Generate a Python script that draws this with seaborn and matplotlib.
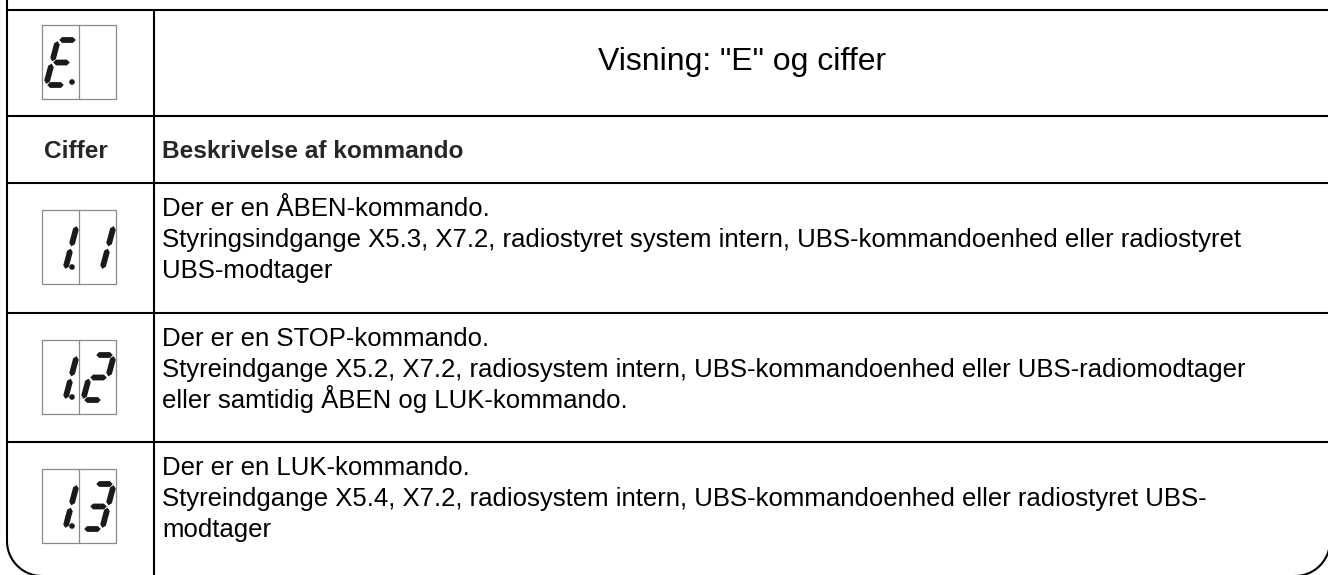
import matplotlib
matplotlib.use("Agg")
import matplotlib.pyplot as plt
from matplotlib.patches import Polygon, Rectangle, Circle
import numpy as np
import seaborn as sns

# table content
title = 'Visning: "E" og ciffer'
col_headers = ["Ciffer", "Beskrivelse af kommando"]
header_code = "E"
codes = ["11", "12", "13"]
descriptions = [
    ["Der er en ÅBEN-kommando.",
     "Styringsindgange X5.3, X7.2, radiostyret system intern, UBS-kommandoenhed eller radiostyret",
     "UBS-modtager"],
    ["Der er en STOP-kommando.",
     "Styreindgange X5.2, X7.2, radiosystem intern, UBS-kommandoenhed eller UBS-radiomodtager",
     "eller samtidig ÅBEN og LUK-kommando."],
    ["Der er en LUK-kommando.",
     "Styreindgange X5.4, X7.2, radiosystem intern, UBS-kommandoenhed eller radiostyret UBS-",
     "modtager"],
]

sns.set_theme(style="white")
plt.rcParams['font.family'] = ['Liberation Sans', 'DejaVu Sans']

W, H = 1328, 575
fig = plt.figure(figsize=(W / 100, H / 100), dpi=100)
ax = fig.add_axes([0, 0, 1, 1])
ax.set_xlim(0, W)
ax.set_ylim(H, 0)
ax.axis("off")

LW = 1.5
INK = "#1a1a1a"
BODY = 18.5

# seven segment helper
SEGS = {"E": "adefg", "1": "bc", "2": "abdeg", "3": "abcdg"}
SEG_PTS = {
    "a": ((0, 0), (1, 0)), "b": ((1, 0), (1, 0.5)), "c": ((1, 0.5), (1, 1)),
    "d": ((0, 1), (1, 1)), "e": ((0, 0.5), (0, 1)), "f": ((0, 0), (0, 0.5)),
    "g": ((0, 0.5), (1, 0.5)),
}


def to_px(cx, cy, u, v):
    return np.array([cx + 4 + u * 19 + 12 * (1 - v), cy + 15 + v * 45])


def draw_digit(cx, cy, ch, dot):
    for s in SEGS.get(ch, ""):
        p, q = SEG_PTS[s]
        P = to_px(cx, cy, *p)
        Q = to_px(cx, cy, *q)
        d = (Q - P) / np.linalg.norm(Q - P)
        n = np.array([-d[1], d[0]])
        P = P + d * 1.2
        Q = Q - d * 1.2
        h = 2.9
        pts = [P, P + d * h + n * h, Q - d * h + n * h, Q, Q - d * h - n * h, P + d * h - n * h]
        ax.add_patch(Polygon(pts, closed=True, color=INK, lw=0))
    if dot:
        ax.add_patch(Circle((cx + 30, cy + 57), 2.8, color=INK, lw=0))


def draw_display(top, chars):
    x0 = 42
    ax.add_patch(Rectangle((x0, top), 74, 74, fill=False, ec="#8a8a8a", lw=0.9))
    ax.plot([x0 + 37, x0 + 37], [top, top + 74], color="#8a8a8a", lw=0.9)
    draw_digit(x0, top, chars[0], True)
    if len(chars) > 1:
        draw_digit(x0 + 37, top, chars[1], False)


# frame
row_lines = [10, 116, 183, 313, 442]
for y in row_lines:
    ax.plot([7, W], [y, y], color="black", lw=LW, solid_capstyle="butt")
ax.plot([7, 7], [0, 541], color="black", lw=LW)
ax.plot([154, 154], [10, H], color="black", lw=LW)
r = 35
th = np.linspace(np.pi, np.pi / 2, 40)
ax.plot(7 + r + r * np.cos(th), 541 + r * np.sin(th), color="black", lw=LW)
th = np.linspace(np.pi / 2, 0, 40)
ax.plot(1330 - r + r * np.cos(th), 541 + r * np.sin(th), color="black", lw=LW)

# title row
draw_display(25, "E ")
ax.text(742, 70, title, fontsize=23, ha="center", va="baseline", color="black")

# header row
ax.text(76, 158, col_headers[0], fontsize=17.6, fontweight="bold", ha="center", va="baseline")
ax.text(162, 158, col_headers[1], fontsize=17.6, fontweight="bold", ha="left", va="baseline")

# code rows
for i, code in enumerate(codes):
    top = row_lines[i + 2]
    draw_display(top + 27, code)
    for j, line in enumerate(descriptions[i]):
        ax.text(162, top + 33 + j * 31, line, fontsize=BODY, ha="left", va="baseline", color="black")

fig.savefig("out.png", dpi=100)
